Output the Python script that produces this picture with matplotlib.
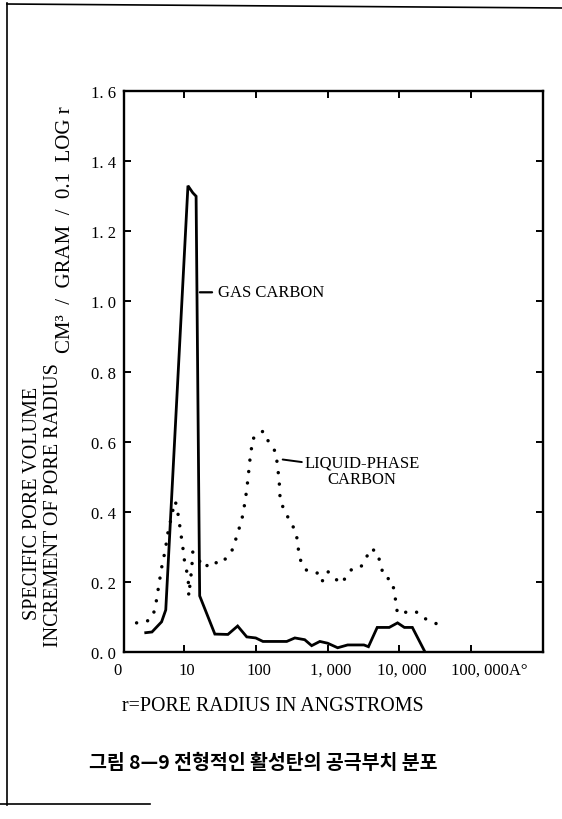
import numpy as np
import matplotlib
matplotlib.use('Agg')
import matplotlib.pyplot as plt
from matplotlib.lines import Line2D

# pore radius (angstrom) / specific pore volume
gas_r   = [2.95, 3.6, 4.9, 5.6, 11.4, 13.3, 14.8, 16.6, 27, 41, 56, 75, 100, 126, 270, 350, 480,
           600, 780, 1000, 1380, 1900, 3200, 3700, 4900, 7200, 9400, 11700, 15100, 22000]
gas_v   = [0.055, 0.057, 0.086, 0.12, 1.33, 1.31, 1.30, 0.16, 0.051, 0.05, 0.074, 0.043, 0.04, 0.03,
           0.03, 0.04, 0.035, 0.018, 0.03, 0.025, 0.012, 0.02, 0.02, 0.015, 0.07, 0.07, 0.083, 0.07,
           0.07, 0.005]
liq_r   = [2.2, 2.95, 3.7, 4.1, 4.4, 4.9, 5.5, 6.0, 7.5, 7.9, 8.5, 9.8, 10.2, 11.5, 11.7, 12.9, 13.3,
           19.5, 24.5, 31.6, 39.8, 46.8, 52.5, 60.3, 66.1, 72.4, 77.6, 83.2, 91.2, 100, 126, 141, 162,
           190, 204, 214, 219, 295, 347, 380, 398, 437, 525, 724, 832, 1000, 1260, 1550, 1820, 2240,
           2950, 3470, 3980, 4900, 5620, 6030, 7760, 8320, 8710, 9120, 9330, 12900, 16600, 20900,
           27500, 34700, 44700]
liq_v   = [0.083, 0.085, 0.10, 0.14, 0.18, 0.24, 0.29, 0.34, 0.43, 0.42, 0.38, 0.29, 0.26, 0.21, 0.16,
           0.24, 0.285, 0.24, 0.26, 0.25, 0.27, 0.29, 0.32, 0.36, 0.39, 0.44, 0.49, 0.55, 0.61, 0.61,
           0.63, 0.61, 0.59, 0.57, 0.52, 0.475, 0.43, 0.375, 0.35, 0.32, 0.28, 0.25, 0.23, 0.225, 0.20,
           0.23, 0.21, 0.195, 0.215, 0.24, 0.245, 0.27, 0.295, 0.285, 0.24, 0.215, 0.205, 0.18, 0.155,
           0.13, 0.11, 0.114, 0.117, 0.097, 0.09, 0.077, 0.085]

x_ticks  = [10, 100, 1000, 10000, 100000]
x_labels = ['10', '100', '1, 000', '10, 000', '100, 000A°']
y_ticks  = [0.0, 0.2, 0.4, 0.6, 0.8, 1.0, 1.2, 1.4, 1.6]

SERIF = ['Liberation Serif', 'DejaVu Serif']
plt.rcParams['font.family'] = SERIF

fig = plt.figure(figsize=(5.62, 8.2), dpi=100)
ax = fig.add_axes([0.221, 0.2037, 0.7456, 0.684])

ax.plot(gas_r, gas_v, color='black', lw=2.0, solid_joinstyle='miter')
ax.plot(liq_r, liq_v, color='black', lw=2.5, linestyle=(0, (0.01, 3.3)), dash_capstyle='round')

ax.set_xscale('log')
ax.set_xlim(10**0.17, 10**6)
ax.set_ylim(0, 1.6)
ax.minorticks_off()

ax.set_xticks(x_ticks)
ax.set_xticklabels([])
ax.set_yticks(y_ticks)
ax.set_yticklabels([f'{v:.1f}'.replace('.', '. ') for v in y_ticks], fontsize=12)
ax.tick_params(axis='both', direction='in', length=5, width=1.4, top=True, right=True, pad=6)

for s in ax.spines.values():
    s.set_linewidth(1.7)

# x tick labels, drawn by hand so the last one can hang off to the right
ax.annotate('0', xy=(0, 0), xycoords='axes fraction', xytext=(-5, -13), textcoords='offset points',
            ha='center', va='center', fontsize=12)
for xv, lab in zip(x_ticks, x_labels):
    dx = 13 if lab.endswith('A°') else 2
    ax.annotate(lab, xy=(xv, 0), xycoords=('data', 'axes fraction'), xytext=(dx, -13),
                textcoords='offset points', ha='center', va='center', fontsize=12)

ax.annotate('GAS CARBON', xy=(16.7, 1.026), xytext=(29.5, 1.026), fontsize=12, va='center', ha='left',
            arrowprops=dict(arrowstyle='-', lw=1.6, color='black', shrinkA=2, shrinkB=0))
ax.annotate('LIQUID-PHASE\nCARBON', xy=(10**2.375, 0.549), xytext=(10**2.68, 0.517), fontsize=12,
            va='center', ha='left', multialignment='center', linespacing=1.1,
            arrowprops=dict(arrowstyle='-', lw=1.4, color='black', shrinkA=0, shrinkB=0,
                            relpos=(0, 0.75)))

fig.text(33 / 562, 1 - 503 / 820, 'SPECIFIC PORE VOLUME', rotation=90, ha='center', va='center',
         fontsize=14.5)
fig.text(54 / 562, 1 - 505 / 820, 'INCREMENT OF PORE RADIUS', rotation=90, ha='center', va='center',
         fontsize=14.5)
fig.text(66 / 562, 1 - 230 / 820, 'CM³  /  GRAM  /  0.1  LOG r', rotation=90, ha='center', va='center',
         fontsize=15)

fig.text(0.485, 1 - 707 / 820, 'r=PORE RADIUS IN ANGSTROMS', ha='center', va='center', fontsize=14.4)
fig.text(0.468, 1 - 763 / 820, '그림 8—9 전형적인 활성탄의 공극부치 분포', ha='center', va='center',
         fontsize=14, fontweight='bold', family=['Noto Sans CJK KR', 'DejaVu Sans'])

# page frame from the scan
fig.add_artist(Line2D([7 / 562, 7 / 562], [1 - 4 / 820, 1 - 806 / 820], color='black', lw=1.2))
fig.add_artist(Line2D([7 / 562, 1.0], [1 - 5 / 820, 1 - 9 / 820], color='black', lw=1.2))
fig.add_artist(Line2D([0, 150 / 562], [1 - 805 / 820, 1 - 805 / 820], color='black', lw=1.2))

fig.savefig('out.png', dpi=100)
